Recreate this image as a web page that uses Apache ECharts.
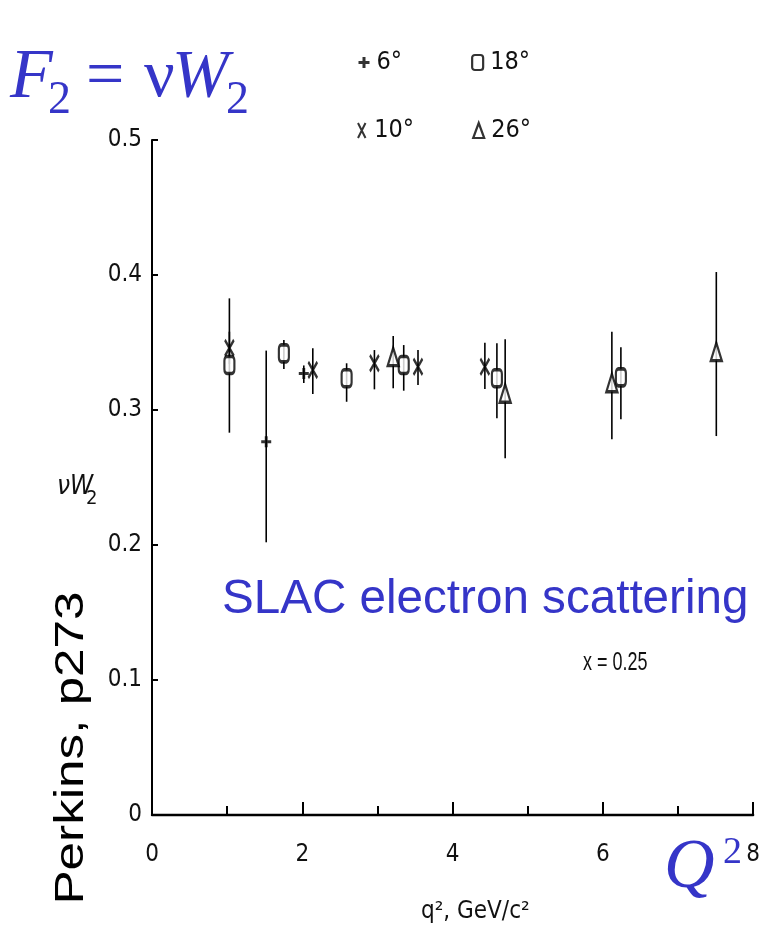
<!DOCTYPE html>
<html>
<head>
<meta charset="utf-8">
<script src="https://cdn.jsdelivr.net/npm/echarts@6/dist/echarts.min.js"></script>
<style>
  html, body { margin: 0; padding: 0; background: #ffffff; }
  #chart { width: 763px; height: 938px; }
</style>
</head>
<body>
<div id="chart"></div>
<script>
// Scattering angles shown in the key
const angleNames = ['6°', '10°', '18°', '26°'];

// 6° points: q² (GeV²/c²), νW₂, error-bar low, error-bar high
const q2_6  = [1.52, 2.02];
const w2_6  = [0.2765, 0.327];
const lo_6  = [0.202, 0.320];
const hi_6  = [0.344, 0.333];

// 10° points
const q2_10 = [1.03, 2.14, 2.96, 3.54, 4.43];
const w2_10 = [0.346, 0.3296, 0.3346, 0.332, 0.332];
const lo_10 = [0.334, 0.3119, 0.3153, 0.3185, 0.3156];
const hi_10 = [0.358, 0.3457, 0.3444, 0.3444, 0.3499];

// 18° points
const q2_18 = [1.03, 1.755, 2.59, 3.35, 4.59, 6.24];
const w2_18 = [0.3333, 0.342, 0.3235, 0.3333, 0.3235, 0.3242];
const lo_18 = [0.2832, 0.3304, 0.3061, 0.3143, 0.2939, 0.2931];
const hi_18 = [0.3827, 0.3519, 0.3346, 0.3481, 0.3494, 0.3464];

// 26° points
const q2_26 = [3.21, 4.70, 6.12, 7.51];
const w2_26 = [0.3395, 0.3124, 0.3202, 0.3432];
const lo_26 = [0.3161, 0.2642, 0.2783, 0.2807];
const hi_26 = [0.3548, 0.3524, 0.358, 0.4022];

// Axis ticks
const xTicks = [0, 2, 4, 6, 8];
const yTicks = [0, 0.1, 0.2, 0.3, 0.4, 0.5];

const BLUE = '#3535c8';
const NARROW = "'Liberation Sans Narrow', 'DejaVu Sans Condensed', 'Arial Narrow', sans-serif";
const SERIF = "'Liberation Serif', 'DejaVu Serif', serif";
const SANS = "'Liberation Sans', Arial, sans-serif";

const zip = (xs, ys) => xs.map((x, i) => [x, ys[i]]);
const zip3 = (xs, a, b) => xs.map((x, i) => [x, a[i], b[i]]);

function errorBars(name, xs, lo, hi) {
  return {
    type: 'custom',
    name: name + ' err',
    z: 1,
    silent: true,
    data: zip3(xs, lo, hi),
    encode: { x: 0, y: [1, 2] },
    renderItem: function (params, api) {
      const x = api.value(0);
      const p1 = api.coord([x, api.value(1)]);
      const p2 = api.coord([x, api.value(2)]);
      return {
        type: 'line',
        shape: { x1: p1[0], y1: p1[1], x2: p2[0], y2: p2[1] },
        style: { stroke: '#000', lineWidth: 1.6 }
      };
    }
  };
}

const PLUS = 'path://M5,0L5,10M0,5L10,5';
const CROSS = 'path://M0,0L10,20M10,0L0,20';

const styles = {
  plus:  { color: '#000', borderColor: '#000', borderWidth: 3 },
  cross: { color: '#000', borderColor: '#000', borderWidth: 2.6 },
  box:   { color: '#fff', borderColor: '#000', borderWidth: 2.8 },
  tri:   { color: '#fff', borderColor: '#000', borderWidth: 2.6 }
};

const pointSeries = [
  { type: 'scatter', name: angleNames[0], z: 3, symbol: PLUS, symbolSize: [10, 11],
    itemStyle: styles.plus, data: zip(q2_6, w2_6) },
  { type: 'scatter', name: angleNames[1], z: 3, symbol: CROSS, symbolSize: [9, 16],
    itemStyle: styles.cross, data: zip(q2_10, w2_10) },
  { type: 'scatter', name: angleNames[2], z: 3, symbol: 'roundRect', symbolSize: [10, 17],
    itemStyle: styles.box, data: zip(q2_18, w2_18) },
  { type: 'scatter', name: angleNames[3], z: 3, symbol: 'triangle', symbolSize: [11, 18],
    itemStyle: styles.tri, data: zip(q2_26, w2_26) }
];

const legendCommon = {
  orient: 'horizontal',
  selectedMode: false,
  padding: 0,
  itemWidth: 11,
  itemHeight: 15,
  textStyle: { fontFamily: NARROW, fontSize: 25, color: '#111', padding: [0, 0, 0, 2] }
};

const chart = echarts.init(document.getElementById('chart'), null, { renderer: 'canvas' });

chart.setOption({
  backgroundColor: '#ffffff',
  animation: false,
  grid: { left: 152, top: 140, width: 603, height: 675, containLabel: false },
  legend: [
    Object.assign({}, legendCommon, {
      left: 357, top: 50, itemGap: 69,
      data: [
        { name: angleNames[0], icon: PLUS, itemStyle: styles.plus },
        { name: angleNames[2], icon: 'roundRect', itemStyle: { color: '#fff', borderColor: '#000', borderWidth: 2.2 } }
      ]
    }),
    Object.assign({}, legendCommon, {
      left: 357, top: 118, itemGap: 58,
      data: [
        { name: angleNames[1], icon: CROSS, itemStyle: { color: '#000', borderColor: '#000', borderWidth: 2 } },
        { name: angleNames[3], icon: 'triangle', itemStyle: { color: '#fff', borderColor: '#000', borderWidth: 2.2 } }
      ]
    })
  ],
  xAxis: {
    type: 'value', min: xTicks[0], max: xTicks[xTicks.length - 1], interval: 2,
    axisLine: { lineStyle: { color: '#000', width: 2.4 } },
    axisTick: { inside: true, length: 13, lineStyle: { color: '#000', width: 2 } },
    minorTick: { show: true, splitNumber: 2, length: 9, lineStyle: { color: '#000', width: 2 } },
    splitLine: { show: false },
    axisLabel: { margin: 28, fontFamily: NARROW, fontSize: 24, color: '#111' }
  },
  yAxis: {
    type: 'value', min: yTicks[0], max: yTicks[yTicks.length - 1], interval: 0.1,
    axisLine: { show: true, lineStyle: { color: '#000', width: 2 } },
    axisTick: { show: true, inside: true, length: 6, lineStyle: { color: '#000', width: 2 } },
    splitLine: { show: false },
    axisLabel: {
      margin: 10, fontFamily: NARROW, fontSize: 24, color: '#111',
      formatter: v => (v === 0 ? '0' : v.toFixed(1))
    }
  },
  graphic: [
    // F₂ = νW₂
    { type: 'text', left: 10, top: 44, style: { text: 'F', font: 'italic 70px ' + SERIF, fill: BLUE } },
    { type: 'text', left: 48, top: 78, style: { text: '2', font: '46px ' + SERIF, fill: BLUE } },
    { type: 'text', left: 86, top: 44, style: { text: '=', font: '68px ' + SERIF, fill: BLUE } },
    { type: 'text', left: 144, top: 44, style: { text: 'ν', font: '68px ' + SERIF, fill: BLUE } },
    { type: 'text', left: 172, top: 44, style: { text: 'W', font: 'italic 68px ' + SERIF, fill: BLUE } },
    { type: 'text', left: 226, top: 78, style: { text: '2', font: '46px ' + SERIF, fill: BLUE } },
    // Q²
    { type: 'text', left: 664, top: 834, style: { text: 'Q', font: 'italic 70px ' + SERIF, fill: BLUE } },
    { type: 'text', left: 723, top: 834, style: { text: '2', font: '38px ' + SERIF, fill: BLUE } },
    // y-axis name νW₂
    { type: 'text', left: 57, top: 474, style: { text: 'νW', font: 'italic 26px ' + NARROW, fill: '#111' } },
    { type: 'text', left: 86, top: 489, style: { text: '2', font: '20px ' + NARROW, fill: '#111' } },
    // x-axis name
    { type: 'text', left: 421, top: 900, style: { text: 'q², GeV/c²', font: '24px ' + NARROW, fill: '#111' } },
    // annotations
    { type: 'text', left: 222, top: 576, style: { text: 'SLAC electron scattering', font: '47.6px ' + SANS, fill: BLUE } },
    { type: 'text', x: 583, y: 651, scaleX: 0.72, style: { text: 'x = 0.25', font: '25px ' + SANS, fill: '#111' } },
    {
      type: 'text', x: 72, y: 748, rotation: Math.PI / 2, scaleX: 1.28,
      style: { text: 'Perkins, p273', font: '40px ' + SANS, fill: '#000', align: 'center', verticalAlign: 'middle' }
    }
  ],
  series: [
    errorBars(angleNames[0], q2_6, lo_6, hi_6),
    errorBars(angleNames[1], q2_10, lo_10, hi_10),
    errorBars(angleNames[2], q2_18, lo_18, hi_18),
    errorBars(angleNames[3], q2_26, lo_26, hi_26)
  ].concat(pointSeries)
});
</script>
</body>
</html>
